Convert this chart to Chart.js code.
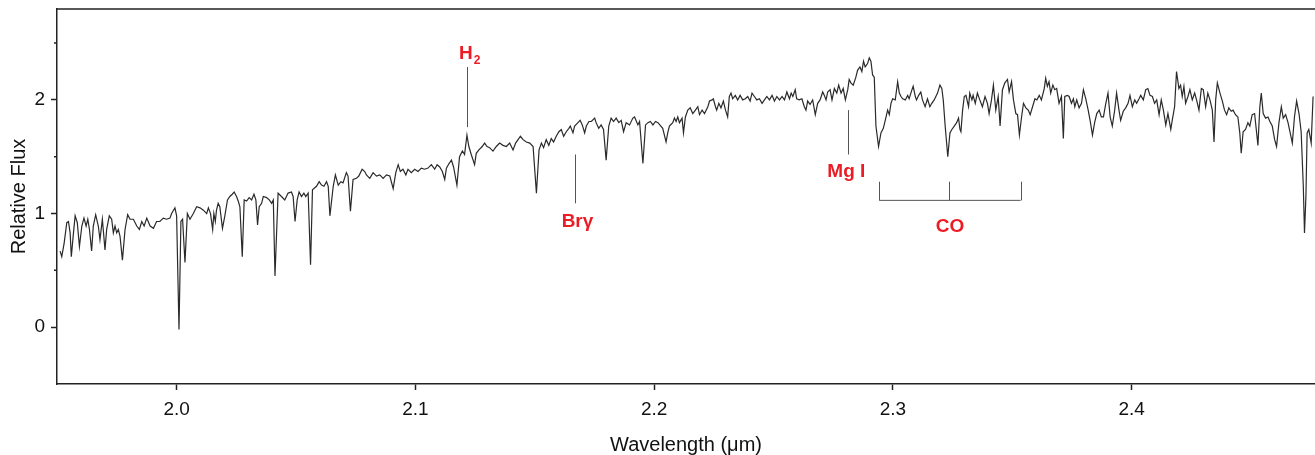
<!DOCTYPE html>
<html>
<head>
<meta charset="utf-8">
<script src="https://cdn.jsdelivr.net/npm/chart.js@4.4.1/dist/chart.umd.min.js"></script>
<style>
  html, body { margin: 0; padding: 0; background: #fff; }
  canvas { display: block; }
</style>
</head>
<body>
<canvas id="myChart" width="1315" height="455"></canvas>
<script>
// Spectrum (wavelength in micron, relative flux)
const wavelength = [
  1.9512,1.9519,1.9529,1.9540,1.9547,1.9554,1.9559,1.9568,1.9575,1.9584,
  1.9593,1.9603,1.9612,1.9621,1.9628,1.9635,1.9644,1.9651,1.9661,1.9672,
  1.9679,1.9689,1.9700,1.9707,1.9718,1.9728,1.9735,1.9742,1.9749,1.9756,
  1.9763,1.9773,1.9784,1.9795,1.9805,1.9819,1.9833,1.9844,1.9854,1.9864,
  1.9875,1.9889,1.9903,1.9916,1.9930,1.9944,1.9958,1.9972,1.9979,1.9993,
  2.0000,2.0010,2.0018,2.0025,2.0035,2.0045,2.0056,2.0070,2.0084,2.0098,
  2.0112,2.0126,2.0133,2.0142,2.0151,2.0156,2.0162,2.0167,2.0174,2.0181,
  2.0192,2.0202,2.0213,2.0223,2.0233,2.0241,2.0251,2.0258,2.0265,2.0275,
  2.0283,2.0293,2.0304,2.0314,2.0324,2.0332,2.0339,2.0346,2.0356,2.0363,
  2.0377,2.0388,2.0398,2.0405,2.0412,2.0425,2.0439,2.0453,2.0467,2.0481,
  2.0488,2.0496,2.0505,2.0513,2.0523,2.0533,2.0541,2.0551,2.0561,2.0569,
  2.0575,2.0586,2.0597,2.0607,2.0617,2.0628,2.0635,2.0642,2.0656,2.0665,
  2.0677,2.0688,2.0697,2.0711,2.0718,2.0728,2.0739,2.0753,2.0763,2.0777,
  2.0788,2.0795,2.0809,2.0823,2.0837,2.0851,2.0865,2.0879,2.0893,2.0907,
  2.0918,2.0928,2.0937,2.0948,2.0960,2.0969,2.0983,2.0997,2.1011,2.1025,
  2.1039,2.1053,2.1067,2.1081,2.1091,2.1102,2.1113,2.1123,2.1130,2.1141,
  2.1151,2.1160,2.1174,2.1185,2.1197,2.1206,2.1216,2.1224,2.1234,2.1248,
  2.1255,2.1266,2.1280,2.1290,2.1300,2.1311,2.1325,2.1339,2.1353,2.1367,
  2.1381,2.1395,2.1409,2.1420,2.1430,2.1440,2.1451,2.1465,2.1479,2.1493,
  2.1507,2.1518,2.1528,2.1537,2.1548,2.1559,2.1569,2.1579,2.1590,2.1601,
  2.1611,2.1621,2.1632,2.1643,2.1649,2.1660,2.1667,2.1681,2.1690,2.1699,
  2.1709,2.1716,2.1727,2.1737,2.1751,2.1757,2.1768,2.1778,2.1788,2.1799,
  2.1810,2.1820,2.1830,2.1841,2.1852,2.1862,2.1872,2.1883,2.1897,2.1911,
  2.1918,2.1932,2.1939,2.1953,2.1964,2.1974,2.1984,2.1995,2.2006,2.2016,
  2.2036,2.2050,2.2057,2.2064,2.2078,2.2085,2.2092,2.2099,2.2106,2.2117,
  2.2123,2.2131,2.2141,2.2151,2.2162,2.2173,2.2183,2.2190,2.2201,2.2211,
  2.2225,2.2232,2.2243,2.2248,2.2257,2.2262,2.2271,2.2280,2.2290,2.2299,
  2.2308,2.2315,2.2322,2.2329,2.2340,2.2350,2.2360,2.2371,2.2382,2.2392,
  2.2402,2.2410,2.2420,2.2430,2.2441,2.2452,2.2462,2.2472,2.2483,2.2494,
  2.2504,2.2514,2.2525,2.2536,2.2546,2.2556,2.2567,2.2574,2.2581,2.2591,
  2.2597,2.2608,2.2619,2.2629,2.2636,2.2643,2.2653,2.2664,2.2675,2.2685,
  2.2695,2.2706,2.2713,2.2720,2.2727,2.2737,2.2745,2.2755,2.2765,2.2773,
  2.2783,2.2792,2.2801,2.2811,2.2817,2.2824,2.2834,2.2845,2.2852,2.2862,
  2.2870,2.2877,2.2884,2.2894,2.2901,2.2908,2.2915,2.2922,2.2929,2.2940,
  2.2950,2.2960,2.2968,2.2978,2.2985,2.2992,2.2999,2.3010,2.3020,2.3027,
  2.3034,2.3041,2.3052,2.3062,2.3068,2.3080,2.3085,2.3094,2.3099,2.3108,
  2.3117,2.3124,2.3135,2.3145,2.3155,2.3163,2.3173,2.3180,2.3187,2.3197,
  2.3205,2.3211,2.3219,2.3230,2.3239,2.3247,2.3257,2.3267,2.3275,2.3281,
  2.3285,2.3292,2.3299,2.3306,2.3317,2.3322,2.3331,2.3336,2.3345,2.3354,
  2.3364,2.3375,2.3386,2.3396,2.3403,2.3413,2.3421,2.3431,2.3441,2.3449,
  2.3459,2.3469,2.3480,2.3487,2.3497,2.3505,2.3515,2.3522,2.3530,2.3539,
  2.3547,2.3557,2.3567,2.3575,2.3585,2.3595,2.3603,2.3613,2.3622,2.3634,
  2.3640,2.3647,2.3654,2.3661,2.3670,2.3678,2.3686,2.3696,2.3706,2.3714,
  2.3720,2.3731,2.3738,2.3748,2.3756,2.3762,2.3770,2.3780,2.3790,2.3798,
  2.3808,2.3818,2.3826,2.3836,2.3845,2.3854,2.3864,2.3873,2.3882,2.3891,
  2.3901,2.3910,2.3919,2.3929,2.3937,2.3947,2.3954,2.3965,2.3975,2.3985,
  2.3993,2.4003,2.4013,2.4021,2.4031,2.4038,2.4049,2.4059,2.4068,2.4077,
  2.4087,2.4096,2.4105,2.4115,2.4124,2.4133,2.4143,2.4152,2.4164,2.4170,
  2.4180,2.4188,2.4198,2.4205,2.4212,2.4219,2.4226,2.4236,2.4244,2.4254,
  2.4264,2.4272,2.4282,2.4292,2.4300,2.4310,2.4319,2.4328,2.4338,2.4345,
  2.4352,2.4359,2.4370,2.4380,2.4389,2.4398,2.4407,2.4417,2.4425,2.4435,
  2.4445,2.4453,2.4459,2.4467,2.4477,2.4487,2.4495,2.4505,2.4515,2.4523,
  2.4529,2.4537,2.4543,2.4551,2.4561,2.4571,2.4579,2.4589,2.4599,2.4607,
  2.4617,2.4627,2.4635,2.4645,2.4655,2.4663,2.4673,2.4682,2.4691,2.4701,
  2.4710,2.4719,2.4724,2.4730,2.4735,2.4742,2.4752,2.4760
];

const flux = [
  0.67,0.62,0.74,0.92,0.93,0.83,0.62,0.83,0.98,0.92,
  0.71,0.89,0.96,0.89,0.95,0.86,0.67,0.89,0.99,0.89,
  0.77,0.95,0.68,0.86,0.98,0.95,0.83,0.89,0.83,0.86,
  0.80,0.59,0.86,0.99,0.95,0.95,0.89,0.86,0.93,0.89,
  0.96,0.89,0.87,0.93,0.93,0.96,0.95,0.96,1.00,1.05,
  0.98,-0.02,0.93,0.95,0.57,1.00,0.95,1.00,1.06,1.05,
  1.03,1.00,1.05,1.00,0.86,1.00,0.93,1.03,1.09,1.06,
  0.87,0.98,1.12,1.15,1.17,1.19,1.15,1.11,1.06,0.62,
  1.12,1.11,1.14,1.12,1.17,1.12,0.90,1.06,1.09,1.15,
  1.14,1.12,1.09,1.12,0.45,1.18,1.15,1.12,1.18,1.19,
  1.15,0.93,1.12,1.19,1.15,1.18,1.15,1.18,0.55,1.21,
  1.22,1.24,1.28,1.25,1.24,1.28,1.24,0.98,1.24,1.34,
  1.25,1.28,1.27,1.36,1.33,1.02,1.30,1.31,1.33,1.39,
  1.37,1.34,1.31,1.36,1.33,1.34,1.31,1.34,1.33,1.22,
  1.36,1.43,1.37,1.39,1.34,1.39,1.36,1.39,1.37,1.40,
  1.39,1.40,1.43,1.39,1.43,1.41,1.37,1.30,1.40,1.44,
  1.47,1.41,1.25,1.50,1.55,1.52,1.69,1.59,1.52,1.43,
  1.53,1.56,1.59,1.62,1.59,1.58,1.55,1.59,1.62,1.60,
  1.59,1.62,1.56,1.62,1.65,1.68,1.65,1.63,1.62,1.59,
  1.18,1.56,1.62,1.58,1.65,1.60,1.66,1.63,1.68,1.72,
  1.74,1.68,1.72,1.75,1.77,1.71,1.77,1.80,1.82,1.78,
  1.71,1.77,1.81,1.81,1.84,1.80,1.75,1.78,1.74,1.47,
  1.77,1.84,1.81,1.84,1.80,1.82,1.72,1.80,1.78,1.84,
  1.85,1.78,1.81,1.44,1.78,1.80,1.81,1.78,1.81,1.80,
  1.75,1.63,1.71,1.77,1.80,1.84,1.81,1.85,1.80,1.84,
  1.71,1.85,1.91,1.93,1.88,1.91,1.94,1.87,1.91,1.88,
  1.94,1.99,2.00,2.01,1.94,1.91,1.97,1.93,1.99,1.91,
  1.85,2.03,2.06,2.01,2.04,2.00,2.04,2.00,2.01,2.03,
  1.99,2.06,2.03,2.00,2.01,1.97,2.00,2.03,2.00,2.04,
  1.99,2.03,2.00,2.03,2.00,2.07,2.01,2.06,2.03,2.09,
  2.01,2.00,2.01,1.94,1.91,1.99,1.96,2.00,1.87,1.97,
  2.00,2.07,2.04,2.00,2.07,2.09,2.00,2.10,2.06,2.13,
  2.06,2.10,2.00,2.09,2.18,2.15,2.13,2.20,2.26,2.29,
  2.25,2.34,2.29,2.32,2.37,2.34,2.22,2.20,1.77,1.59,
  1.71,1.75,1.82,1.91,1.87,1.97,2.01,2.00,2.16,2.06,
  2.03,2.01,2.00,2.04,2.01,2.09,2.12,2.03,2.00,2.04,
  2.07,2.00,1.94,2.01,1.94,1.97,2.00,2.03,2.06,2.13,
  2.10,2.00,1.77,1.50,1.71,1.74,1.77,1.80,1.84,1.74,
  1.72,1.91,2.03,2.04,1.94,2.06,2.00,2.04,1.97,2.06,
  2.00,1.94,2.03,1.97,1.88,2.00,2.13,1.91,2.03,1.77,
  2.09,2.15,2.18,2.07,2.16,2.00,1.88,1.87,1.69,1.85,
  1.97,1.93,1.91,1.87,1.94,2.01,2.00,2.04,2.00,2.10,
  2.19,2.12,2.16,2.06,2.13,2.09,2.10,1.97,2.03,1.66,
  2.03,2.04,2.03,1.97,2.01,1.94,2.00,1.93,1.97,2.09,
  2.01,1.91,1.82,1.69,1.80,1.88,1.91,1.85,1.85,1.96,
  2.06,1.85,1.77,1.91,2.06,1.91,1.82,1.90,1.93,1.97,
  2.04,1.94,2.00,1.97,2.01,2.04,2.00,2.09,2.10,2.04,
  2.03,1.97,2.00,1.87,2.00,1.91,1.78,1.88,1.74,1.82,
  1.94,2.25,2.10,2.13,2.03,2.12,1.97,2.03,2.09,2.00,
  2.06,2.00,1.91,2.10,2.09,1.94,2.06,2.00,1.91,1.63,
  2.00,2.15,2.06,1.99,1.91,1.87,1.93,1.90,1.91,1.87,
  1.85,1.71,1.53,1.72,1.74,1.80,1.77,1.87,1.88,1.72,
  1.60,1.94,2.06,1.88,1.84,1.85,1.81,1.77,1.65,1.59,
  1.80,1.94,1.84,1.87,1.80,1.72,1.62,1.85,1.99,1.88,
  1.72,1.24,0.83,1.15,1.71,1.74,1.62,2.03
];

// Axis ranges and ticks
const xMin = 1.9499, xMax = 2.4768;
const yMin = -0.5, yMax = 2.8;
const xTicks = [2.0, 2.1, 2.2, 2.3, 2.4];
const yTicks = [0, 1, 2];
const yMinorTicks = [0.5, 1.5, 2.5];

// Line identifications: label, wavelength, marker line from/to (flux), label position
const markLabels = ['H', 'Br\u03b3', 'Mg I'];
const markSubs = ['2', '', ''];
const markWave = [2.1216, 2.1667, 2.2810];
const markFrom = [1.76, 1.09, 1.52];
const markTo = [2.29, 1.52, 1.91];
const markTextWave = [2.1228, 2.1679, 2.2805];
const markTextFlux = [2.42, 0.94, 1.385];

// CO bandheads bracket
const coWave = [2.2943, 2.3234, 2.3535];
const coTop = 1.28, coBase = 1.116;
const coTextWave = 2.3239, coTextFlux = 0.90;

const family = "'Liberation Sans', Arial, Helvetica, sans-serif";
const red = '#ec1c24';

// draws the frame top, minor ticks and the red line labels
const markers = {
  id: 'markers',
  afterDraw(chart) {
    const {ctx, chartArea} = chart;
    const x = chart.scales.x, y = chart.scales.y;
    ctx.save();

    ctx.strokeStyle = '#222';
    ctx.lineWidth = 1.5;
    ctx.beginPath();
    ctx.moveTo(chartArea.left, chartArea.top);
    ctx.lineTo(chartArea.right, chartArea.top);
    yMinorTicks.forEach(v => {
      const py = y.getPixelForValue(v);
      ctx.moveTo(chartArea.left - 3, py);
      ctx.lineTo(chartArea.left, py);
    });
    ctx.stroke();

    // marker lines
    ctx.strokeStyle = '#555';
    ctx.lineWidth = 1;
    ctx.beginPath();
    markWave.forEach((w, i) => {
      const px = Math.round(x.getPixelForValue(w)) + 0.5;
      ctx.moveTo(px, y.getPixelForValue(markFrom[i]));
      ctx.lineTo(px, y.getPixelForValue(markTo[i]));
    });
    const base = y.getPixelForValue(coBase);
    const top = y.getPixelForValue(coTop);
    ctx.moveTo(x.getPixelForValue(coWave[0]), base);
    ctx.lineTo(x.getPixelForValue(coWave[coWave.length - 1]), base);
    coWave.forEach(w => {
      const px = Math.round(x.getPixelForValue(w)) + 0.5;
      ctx.moveTo(px, top);
      ctx.lineTo(px, base);
    });
    ctx.stroke();

    // labels
    ctx.fillStyle = red;
    ctx.textBaseline = 'alphabetic';
    ctx.textAlign = 'left';
    markLabels.forEach((lab, i) => {
      ctx.font = 'bold 19px ' + family;
      const w1 = ctx.measureText(lab).width;
      ctx.font = 'bold 12px ' + family;
      const w2 = markSubs[i] ? ctx.measureText(markSubs[i]).width + 1 : 0;
      const cx = x.getPixelForValue(markTextWave[i]);
      const by = y.getPixelForValue(markTextFlux[i]) + 7;
      const sx = cx - (w1 + w2) / 2;
      ctx.font = 'bold 19px ' + family;
      ctx.fillText(lab, sx, by);
      if (markSubs[i]) {
        ctx.font = 'bold 12px ' + family;
        ctx.fillText(markSubs[i], sx + w1 + 1, by + 5);
      }
    });
    ctx.font = 'bold 19px ' + family;
    ctx.textAlign = 'center';
    ctx.fillText('CO', x.getPixelForValue(coTextWave), y.getPixelForValue(coTextFlux) + 7);

    ctx.restore();
  }
};

const ctx = document.getElementById('myChart').getContext('2d');
const myChart = new Chart(ctx, {
  type: 'line',
  data: {
    datasets: [{
      data: wavelength.map((w, i) => ({x: w, y: flux[i]})),
      borderColor: '#2a2a2a',
      borderWidth: 1.2,
      pointRadius: 0,
      tension: 0,
      fill: false
    }]
  },
  options: {
    responsive: false,
    animation: false,
    devicePixelRatio: 1,
    layout: {padding: {top: 9, right: 0, bottom: 0, left: 0}},
    plugins: {legend: {display: false}, tooltip: {enabled: false}},
    scales: {
      x: {
        type: 'linear',
        min: xMin,
        max: xMax,
        afterFit: s => { s.height = 71; s.paddingLeft = 0; s.paddingRight = 0; },
        afterBuildTicks: s => { s.ticks = xTicks.map(v => ({value: v})); },
        grid: {drawOnChartArea: false, drawTicks: true, tickLength: 6, tickWidth: 1.5, color: '#222'},
        border: {display: true, color: '#222', width: 1.5},
        ticks: {font: {family, size: 19}, color: '#111', padding: 8, maxRotation: 0,
                callback: v => v.toFixed(1)},
        title: {display: true, text: 'Wavelength (\u03bcm)', color: '#111', padding: 0,
                font: {family, size: 20, lineHeight: 1}}
      },
      y: {
        min: yMin,
        max: yMax,
        afterFit: s => { s.width = 57; s.paddingTop = 0; s.paddingBottom = 0; },
        afterBuildTicks: s => { s.ticks = yTicks.map(v => ({value: v})); },
        grid: {drawOnChartArea: false, drawTicks: true, tickLength: 6, tickWidth: 1.5, color: '#222'},
        border: {display: true, color: '#222', width: 1.5},
        ticks: {font: {family, size: 19}, color: '#111', padding: 6,
                callback: v => v.toFixed(0)},
        title: {display: true, text: 'Relative Flux', color: '#111', padding: {top: 9, bottom: 0},
                font: {family, size: 20, lineHeight: 1}}
      }
    }
  },
  plugins: [markers]
});
</script>
</body>
</html>
